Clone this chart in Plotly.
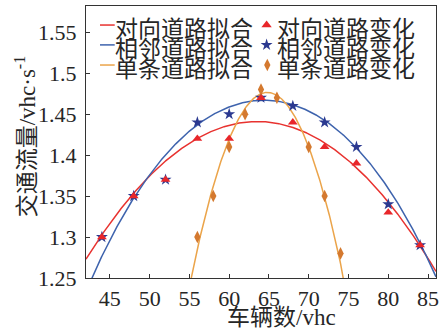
import numpy as np
import plotly.graph_objects as go

# Measured traffic flow (vehicles per second) against number of vehicles
opp_x = [44, 48, 52, 56, 60, 64, 68, 72, 76, 80, 84]
opp_y = [1.30, 1.35, 1.37, 1.42, 1.42, 1.47, 1.44, 1.41, 1.39, 1.33, 1.29]
adj_x = [44, 48, 52, 56, 60, 64, 68, 72, 76, 80, 84]
adj_y = [1.30, 1.35, 1.37, 1.44, 1.45, 1.47, 1.46, 1.44, 1.41, 1.34, 1.29]
single_x = [56, 58, 60, 62, 64, 66, 70, 72, 74]
single_y = [1.30, 1.35, 1.41, 1.45, 1.48, 1.47, 1.41, 1.35, 1.28]

# Fitted curves in vertex form: y = peak + c2*(x-h)^2 + c4*(x-h)^4
opp_fit = dict(h=63.53, peak=1.441, c2=-3.625e-4, c4=0.0)
adj_fit = dict(h=64.4, peak=1.467, c2=-4.2e-4, c4=-0.9e-7)
single_fit = dict(h=64.8, peak=1.4765, c2=-2.467e-3, c4=0.0)

fit_labels = ["对向道路拟合", "相邻道路拟合", "单条道路拟合"]
obs_labels = ["对向道路变化", "相邻道路变化", "单条道路变化"]

x_ticks = [45, 50, 55, 60, 65, 70, 75, 80, 85]
y_ticks = [1.25, 1.30, 1.35, 1.40, 1.45, 1.50, 1.55]
y_tick_text = ["1.25", "1.3", "1.35", "1.4", "1.45", "1.5", "1.55"]

RED_LINE, RED_MARK = "#e8322f", "#e8262a"
BLUE_LINE, BLUE_MARK = "#3e63ad", "#2b3990"
ORANGE_LINE, ORANGE_MARK = "#eba44a", "#d4792f"
AXIS = "#333333"
TEXT = "#262626"
SERIF = "Liberation Serif, Noto Sans CJK SC, serif"
CJK = "Noto Sans CJK SC, Liberation Serif, sans-serif"


def curve(p, x):
    u = x - p["h"]
    return p["peak"] + p["c2"] * u ** 2 + p["c4"] * u ** 4


xs = np.linspace(42, 86, 500)

fig = go.Figure()

for p, col in [(opp_fit, RED_LINE), (adj_fit, BLUE_LINE), (single_fit, ORANGE_LINE)]:
    fig.add_trace(go.Scatter(x=xs, y=curve(p, xs), mode="lines",
                             line=dict(color=col, width=1.5), showlegend=False,
                             hoverinfo="skip"))

fig.add_trace(go.Scatter(x=adj_x, y=adj_y, mode="markers", showlegend=False,
                         marker=dict(symbol="star", size=9, color=BLUE_MARK, line=dict(width=0))))
fig.add_trace(go.Scatter(x=opp_x, y=opp_y, mode="markers", showlegend=False,
                         marker=dict(symbol="triangle-up", size=8.5, color=RED_MARK, line=dict(width=0))))
fig.add_trace(go.Scatter(x=single_x, y=single_y, mode="markers", showlegend=False,
                         marker=dict(symbol="diamond-tall", size=9, color=ORANGE_MARK, line=dict(width=0))))

# Legend drawn by hand: two columns, three tight rows
row_line_y = [0.930, 0.857, 0.783]
row_text_y = [0.921, 0.848, 0.774]
line_cols = [RED_LINE, BLUE_LINE, ORANGE_LINE]
for yy, col in zip(row_line_y, line_cols):
    fig.add_shape(type="line", xref="paper", yref="paper", x0=0.040, x1=0.082,
                  y0=yy, y1=yy, line=dict(color=col, width=1.5))
for col_x, labels in [(0.080, fit_labels), (0.544, obs_labels)]:
    for yy, lab in zip(row_text_y, labels):
        fig.add_annotation(x=col_x, y=yy, xref="paper", yref="paper", text=lab,
                           showarrow=False, xanchor="left", yanchor="middle",
                           borderpad=0, font=dict(family=CJK, size=23, color=TEXT))

key_symbols = ["triangle-up", "star", "diamond-tall"]
key_colors = [RED_MARK, BLUE_MARK, ORANGE_MARK]
fig.add_trace(go.Scatter(x=[0.516, 0.516, 0.518], y=row_line_y, xaxis="x2", yaxis="y2",
                         mode="markers", showlegend=False, hoverinfo="skip",
                         marker=dict(symbol=key_symbols, size=9, color=key_colors,
                                     line=dict(width=0))))

# Axis titles
fig.add_annotation(x=0.558, y=-0.145, xref="paper", yref="paper", text="车辆数/vhc",
                   showarrow=False, xanchor="center", yanchor="middle",
                   font=dict(family=SERIF, size=23, color=TEXT))
fig.add_annotation(x=-0.172, y=0.52, xref="paper", yref="paper",
                   text="交通流量/vhc·s<sup>-1</sup>", textangle=-90,
                   showarrow=False, xanchor="center", yanchor="middle",
                   font=dict(family=SERIF, size=23, color=TEXT))

axis_common = dict(showgrid=False, zeroline=False, showline=True, linecolor=AXIS,
                   linewidth=1.3, mirror=True, ticks="inside", ticklen=4,
                   tickwidth=1.2, tickcolor=AXIS,
                   tickfont=dict(family=SERIF, size=22, color=TEXT))

fig.update_layout(
    width=444, height=329,
    margin=dict(l=86, r=5, t=6, b=51),
    paper_bgcolor="white", plot_bgcolor="white",
    showlegend=False,
    xaxis=dict(range=[42, 86], tickvals=x_ticks, ticklabelstandoff=0, **axis_common),
    yaxis=dict(range=[1.25, 1.582], tickvals=y_ticks, ticktext=y_tick_text,
               ticklabelstandoff=4, **axis_common),
    xaxis2=dict(range=[0, 1], overlaying="x", visible=False),
    yaxis2=dict(range=[0, 1], overlaying="y", anchor="x2", visible=False),
)

fig.write_html("out.html")
